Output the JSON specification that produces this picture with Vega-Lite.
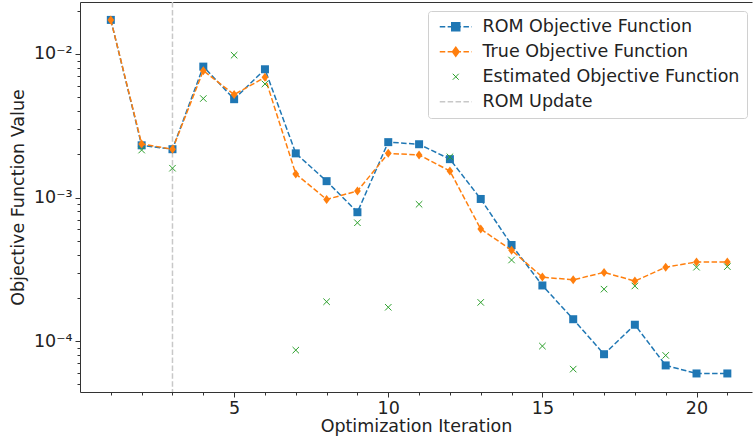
{
  "$schema": "https://vega.github.io/schema/vega-lite/v6.json",
  "width": 672,
  "height": 390,
  "autosize": {"type": "none"},
  "padding": {"left": 80, "top": 2, "right": 1, "bottom": 51},
  "config": {
    "view": {"stroke": null},
    "font": "DejaVu Sans",
    "axis": {"labelFont": "DejaVu Sans", "titleFont": "DejaVu Sans", "labelFontSize": 17.5, "titleFontSize": 17.5, "titleFontWeight": "normal", "labelColor": "#222", "titleColor": "#222", "domainColor": "#333", "tickColor": "#333", "domainWidth": 1, "tickWidth": 1, "grid": false}
  },
  "data": {
    "values": [
      {"iter": 1, "series": "ROM Objective Function", "value": 0.01726},
      {"iter": 2, "series": "ROM Objective Function", "value": 0.00231},
      {"iter": 3, "series": "ROM Objective Function", "value": 0.00217},
      {"iter": 4, "series": "ROM Objective Function", "value": 0.00816},
      {"iter": 5, "series": "ROM Objective Function", "value": 0.00484},
      {"iter": 6, "series": "ROM Objective Function", "value": 0.00782},
      {"iter": 7, "series": "ROM Objective Function", "value": 0.00203},
      {"iter": 8, "series": "ROM Objective Function", "value": 0.0013},
      {"iter": 9, "series": "ROM Objective Function", "value": 0.00079},
      {"iter": 10, "series": "ROM Objective Function", "value": 0.00243},
      {"iter": 11, "series": "ROM Objective Function", "value": 0.00235},
      {"iter": 12, "series": "ROM Objective Function", "value": 0.00185},
      {"iter": 13, "series": "ROM Objective Function", "value": 0.000977},
      {"iter": 14, "series": "ROM Objective Function", "value": 0.000467},
      {"iter": 15, "series": "ROM Objective Function", "value": 0.000244},
      {"iter": 16, "series": "ROM Objective Function", "value": 0.000142},
      {"iter": 17, "series": "ROM Objective Function", "value": 0.000081},
      {"iter": 18, "series": "ROM Objective Function", "value": 0.00013},
      {"iter": 19, "series": "ROM Objective Function", "value": 0.0000677},
      {"iter": 20, "series": "ROM Objective Function", "value": 0.0000595},
      {"iter": 21, "series": "ROM Objective Function", "value": 0.0000595},
      {"iter": 1, "series": "True Objective Function", "value": 0.01726},
      {"iter": 2, "series": "True Objective Function", "value": 0.00236},
      {"iter": 3, "series": "True Objective Function", "value": 0.00217},
      {"iter": 4, "series": "True Objective Function", "value": 0.00765},
      {"iter": 5, "series": "True Objective Function", "value": 0.00521},
      {"iter": 6, "series": "True Objective Function", "value": 0.00687},
      {"iter": 7, "series": "True Objective Function", "value": 0.00146},
      {"iter": 8, "series": "True Objective Function", "value": 0.00097},
      {"iter": 9, "series": "True Objective Function", "value": 0.00111},
      {"iter": 10, "series": "True Objective Function", "value": 0.00203},
      {"iter": 11, "series": "True Objective Function", "value": 0.00198},
      {"iter": 12, "series": "True Objective Function", "value": 0.00153},
      {"iter": 13, "series": "True Objective Function", "value": 0.000603},
      {"iter": 14, "series": "True Objective Function", "value": 0.00043},
      {"iter": 15, "series": "True Objective Function", "value": 0.000279},
      {"iter": 16, "series": "True Objective Function", "value": 0.000267},
      {"iter": 17, "series": "True Objective Function", "value": 0.000301},
      {"iter": 18, "series": "True Objective Function", "value": 0.000262},
      {"iter": 19, "series": "True Objective Function", "value": 0.000327},
      {"iter": 20, "series": "True Objective Function", "value": 0.000356},
      {"iter": 21, "series": "True Objective Function", "value": 0.000356},
      {"iter": 2, "series": "Estimated Objective Function", "value": 0.00214},
      {"iter": 3, "series": "Estimated Objective Function", "value": 0.0016},
      {"iter": 4, "series": "Estimated Objective Function", "value": 0.00489},
      {"iter": 5, "series": "Estimated Objective Function", "value": 0.0098},
      {"iter": 6, "series": "Estimated Objective Function", "value": 0.00618},
      {"iter": 7, "series": "Estimated Objective Function", "value": 0.0000865},
      {"iter": 8, "series": "Estimated Objective Function", "value": 0.000188},
      {"iter": 9, "series": "Estimated Objective Function", "value": 0.000667},
      {"iter": 10, "series": "Estimated Objective Function", "value": 0.000172},
      {"iter": 11, "series": "Estimated Objective Function", "value": 0.000897},
      {"iter": 12, "series": "Estimated Objective Function", "value": 0.00192},
      {"iter": 13, "series": "Estimated Objective Function", "value": 0.000186},
      {"iter": 14, "series": "Estimated Objective Function", "value": 0.000367},
      {"iter": 15, "series": "Estimated Objective Function", "value": 0.0000923},
      {"iter": 16, "series": "Estimated Objective Function", "value": 0.0000638},
      {"iter": 17, "series": "Estimated Objective Function", "value": 0.00023},
      {"iter": 18, "series": "Estimated Objective Function", "value": 0.000242},
      {"iter": 19, "series": "Estimated Objective Function", "value": 0.0000795},
      {"iter": 20, "series": "Estimated Objective Function", "value": 0.000327},
      {"iter": 21, "series": "Estimated Objective Function", "value": 0.00033},
      {"iter": 3, "series": "ROM Update", "value": null}
    ]
  },
  "resolve": {"axis": {"x": "independent"}},
  "layer": [
    {
      "transform": [{"filter": "datum.series == 'ROM Update'"}],
      "mark": {"type": "rule", "strokeDash": [5.5, 2.4], "strokeWidth": 1.5, "opacity": 1},
      "encoding": {
        "x": {"field": "iter", "type": "quantitative", "scale": {"domain": [0, 21.8], "nice": false, "zero": false},
          "axis": {"orient": "top", "labels": false, "ticks": false, "title": null, "domain": true}},
        "color": {"field": "series", "type": "nominal",
          "scale": {"domain": ["ROM Objective Function", "True Objective Function", "Estimated Objective Function", "ROM Update"], "range": ["#1f77b4", "#ff7f0e", "#2ca02c", "#c8c8c8"]}}
      }
    },
    {
      "transform": [{"filter": "datum.series == 'ROM Objective Function'"}],
      "mark": {"type": "line", "strokeDash": [5.5, 2.4], "strokeWidth": 1.5, "opacity": 1},
      "encoding": {
        "x": {"field": "iter", "type": "quantitative", "scale": {"domain": [0, 21.8], "nice": false, "zero": false},
          "axis": {"title": "Optimization Iteration", "values": [1,2,3,4,5,6,7,8,9,10,11,12,13,14,15,16,17,18,19,20,21],
            "labelExpr": "datum.value % 5 == 0 ? datum.value : ''", "labelOverlap": false, "labelFlush": false,
            "tickSize": {"condition": {"test": "datum.value % 5 == 0", "value": 5}, "value": 3},
            "labelPadding": 2, "titlePadding": 1}},
        "y": {"field": "value", "type": "quantitative", "scale": {"type": "log", "domain": [0.0000442, 0.0230], "nice": false},
          "axis": {"title": "Objective Function Value",
            "values": [0.00005,0.00006,0.00007,0.00008,0.00009,0.0001,0.0002,0.0003,0.0004,0.0005,0.0006,0.0007,0.0008,0.0009,0.001,0.002,0.003,0.004,0.005,0.006,0.007,0.008,0.009,0.01,0.02],
            "labelExpr": "datum.value == 0.01 ? '10⁻²' : datum.value == 0.001 ? '10⁻³' : datum.value == 0.0001 ? '10⁻⁴' : ''",
            "labelOverlap": false, "labelFlush": false,
            "tickSize": {"condition": {"test": "datum.value == 0.01 || datum.value == 0.001 || datum.value == 0.0001", "value": 5}, "value": 3},
            "labelPadding": 3, "titlePadding": 6}},
        "color": {"field": "series", "type": "nominal",
          "scale": {"domain": ["ROM Objective Function", "True Objective Function", "Estimated Objective Function", "ROM Update"], "range": ["#1f77b4", "#ff7f0e", "#2ca02c", "#c8c8c8"]},
          "legend": {
            "title": null, "orient": "none", "legendX": 348, "legendY": 9,
            "fillColor": "white", "strokeColor": "#d0d0d0", "cornerRadius": 3, "padding": 7,
            "labelFont": "DejaVu Sans", "labelFontSize": 17.5, "labelColor": "#222", "labelLimit": 400,
            "symbolSize": 100, "symbolOffset": 12, "labelOffset": 18, "rowPadding": 6, "symbolOpacity": 1,
            "encode": {"symbols": {"update": {
              "shape": {"signal": "datum.value == 'ROM Objective Function' ? 'M-3.2,0L-2.1,0M-1.62,0L-0.52,0M-0.04,0L1.06,0M1.54,0L2.64,0M3.12,0L3.2,0M-0.8,-0.8L0.8,-0.8L0.8,0.8L-0.8,0.8Z' : datum.value == 'True Objective Function' ? 'M-3.2,0L-2.1,0M-1.62,0L-0.52,0M-0.04,0L1.06,0M1.54,0L2.64,0M3.12,0L3.2,0M0,-0.9L0.65,0L0,0.9L-0.65,0Z' : datum.value == 'Estimated Objective Function' ? 'M-0.6,-0.6L0.6,0.6M-0.6,0.6L0.6,-0.6' : 'M-3.2,0L-2.1,0M-1.62,0L-0.52,0M-0.04,0L1.06,0M1.54,0L2.64,0M3.12,0L3.2,0'"},
              "fill": {"signal": "datum.value == 'ROM Objective Function' ? '#1f77b4' : datum.value == 'True Objective Function' ? '#ff7f0e' : 'transparent'"},
              "stroke": {"signal": "datum.value == 'ROM Objective Function' ? '#1f77b4' : datum.value == 'True Objective Function' ? '#ff7f0e' : datum.value == 'Estimated Objective Function' ? '#2ca02c' : '#c8c8c8'"},
              "strokeWidth": {"signal": "datum.value == 'Estimated Objective Function' ? 1 : 1.5"},
              "opacity": {"value": 1}
            }}}
          }}
      }
    },
    {
      "transform": [{"filter": "datum.series == 'ROM Objective Function'"}],
      "mark": {"type": "point", "shape": "square", "filled": true, "size": 64, "opacity": 1},
      "encoding": {
        "x": {"field": "iter", "type": "quantitative", "scale": {"domain": [0, 21.8], "nice": false, "zero": false}, "axis": null},
        "y": {"field": "value", "type": "quantitative", "scale": {"type": "log", "domain": [0.0000442, 0.0230], "nice": false}},
        "color": {"field": "series", "type": "nominal",
          "scale": {"domain": ["ROM Objective Function", "True Objective Function", "Estimated Objective Function", "ROM Update"], "range": ["#1f77b4", "#ff7f0e", "#2ca02c", "#c8c8c8"]}}
      }
    },
    {
      "transform": [{"filter": "datum.series == 'True Objective Function'"}],
      "mark": {"type": "line", "strokeDash": [5.5, 2.4], "strokeWidth": 1.5, "opacity": 1},
      "encoding": {
        "x": {"field": "iter", "type": "quantitative", "scale": {"domain": [0, 21.8], "nice": false, "zero": false}, "axis": null},
        "y": {"field": "value", "type": "quantitative", "scale": {"type": "log", "domain": [0.0000442, 0.0230], "nice": false}},
        "color": {"field": "series", "type": "nominal",
          "scale": {"domain": ["ROM Objective Function", "True Objective Function", "Estimated Objective Function", "ROM Update"], "range": ["#1f77b4", "#ff7f0e", "#2ca02c", "#c8c8c8"]}}
      }
    },
    {
      "transform": [{"filter": "datum.series == 'True Objective Function'"}],
      "mark": {"type": "point", "shape": "M0,-1L0.75,0L0,1L-0.75,0Z", "filled": true, "size": 81, "opacity": 1},
      "encoding": {
        "x": {"field": "iter", "type": "quantitative", "scale": {"domain": [0, 21.8], "nice": false, "zero": false}, "axis": null},
        "y": {"field": "value", "type": "quantitative", "scale": {"type": "log", "domain": [0.0000442, 0.0230], "nice": false}},
        "color": {"field": "series", "type": "nominal",
          "scale": {"domain": ["ROM Objective Function", "True Objective Function", "Estimated Objective Function", "ROM Update"], "range": ["#1f77b4", "#ff7f0e", "#2ca02c", "#c8c8c8"]}}
      }
    },
    {
      "transform": [{"filter": "datum.series == 'Estimated Objective Function'"}],
      "mark": {"type": "point", "shape": "M-1,-1L1,1M-1,1L1,-1", "filled": false, "size": 42, "strokeWidth": 1, "opacity": 1},
      "encoding": {
        "x": {"field": "iter", "type": "quantitative", "scale": {"domain": [0, 21.8], "nice": false, "zero": false}, "axis": null},
        "y": {"field": "value", "type": "quantitative", "scale": {"type": "log", "domain": [0.0000442, 0.0230], "nice": false}},
        "color": {"field": "series", "type": "nominal",
          "scale": {"domain": ["ROM Objective Function", "True Objective Function", "Estimated Objective Function", "ROM Update"], "range": ["#1f77b4", "#ff7f0e", "#2ca02c", "#c8c8c8"]}}
      }
    }
  ]
}
